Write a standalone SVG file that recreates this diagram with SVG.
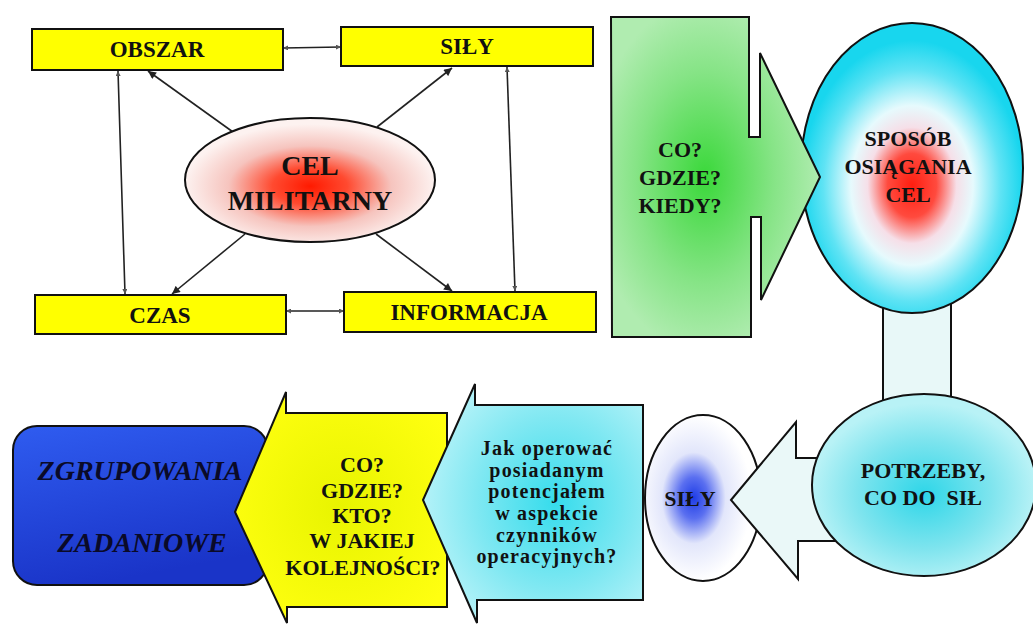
<svg xmlns="http://www.w3.org/2000/svg" width="1033" height="626" viewBox="0 0 1033 626">
<style>
text{font-family:"Liberation Serif","Times New Roman",serif;font-weight:bold;fill:#111;text-anchor:middle}
.box{fill:#ffff00;stroke:#111;stroke-width:2}
.ln{stroke:#222;stroke-width:1.6;fill:none}
.sh{stroke:#111;stroke-width:2}
.t22{font-size:22px}
.t23{font-size:23px}
.tj{font-size:20px;letter-spacing:1.2px}
</style>
<defs>
<marker id="ah" viewBox="0 0 10 10" refX="10" refY="5" markerWidth="9" markerHeight="8" markerUnits="userSpaceOnUse" orient="auto"><path d="M0,0 L10,5 L0,10 z" fill="#222"/></marker>
<marker id="sm" viewBox="0 0 10 10" refX="10" refY="5" markerWidth="5" markerHeight="5" markerUnits="userSpaceOnUse" orient="auto-start-reverse"><path d="M0,0 L10,5 L0,10 z" fill="#555"/></marker>
<radialGradient id="gCel" cx="0.5" cy="0.55" r="0.5">
<stop offset="0" stop-color="#ff1a00"/><stop offset="0.3" stop-color="#ff4a30"/><stop offset="0.65" stop-color="#f6c4be"/><stop offset="1" stop-color="#fdf2f0"/>
</radialGradient>
<radialGradient id="gGreen" cx="0.45" cy="0.5" r="0.55">
<stop offset="0" stop-color="#3ad83a"/><stop offset="0.6" stop-color="#86e486"/><stop offset="1" stop-color="#b0ecb0"/>
</radialGradient>
<radialGradient id="gSpos" cx="0.5" cy="0.56" r="0.5">
<stop offset="0" stop-color="#ff1e10"/><stop offset="0.22" stop-color="#ff4a3e"/><stop offset="0.4" stop-color="#f6dfe8"/><stop offset="0.55" stop-color="#e6fafd"/><stop offset="0.8" stop-color="#5fe3f4"/><stop offset="1" stop-color="#18d6ee"/>
</radialGradient>
<radialGradient id="gPotr" cx="0.5" cy="0.55" r="0.5">
<stop offset="0" stop-color="#2ed6e8"/><stop offset="0.6" stop-color="#7ee4ee"/><stop offset="1" stop-color="#b8f2f6"/>
</radialGradient>
<radialGradient id="gSily" cx="0.42" cy="0.5" r="0.5">
<stop offset="0" stop-color="#1f3de6"/><stop offset="0.25" stop-color="#5a6ff0"/><stop offset="0.55" stop-color="#e2e6fb"/><stop offset="1" stop-color="#ffffff"/>
</radialGradient>
<radialGradient id="gJak" cx="0.6" cy="0.5" r="0.6">
<stop offset="0" stop-color="#36dcec"/><stop offset="0.6" stop-color="#80e8f2"/><stop offset="1" stop-color="#b4f2f8"/>
</radialGradient>
<radialGradient id="gYel" cx="0.5" cy="0.5" r="0.6">
<stop offset="0" stop-color="#e8f400"/><stop offset="1" stop-color="#ffff10"/>
</radialGradient>
<linearGradient id="gBlue" x1="0" y1="0" x2="0.3" y2="1">
<stop offset="0" stop-color="#2f5cf0"/><stop offset="1" stop-color="#1a34c8"/>
</linearGradient>
</defs>

<g id="connectors">
<path class="ln" d="M283,48 L341,47" marker-start="url(#sm)" marker-end="url(#sm)"/>
<path class="ln" d="M286,311 L344,311" marker-start="url(#sm)" marker-end="url(#sm)"/>
<path class="ln" d="M118,71 L125,294" marker-start="url(#sm)" marker-end="url(#sm)"/>
<path class="ln" d="M507,67 L515,291" marker-start="url(#sm)" marker-end="url(#sm)"/>
<path class="ln" d="M233,132 L148,71" marker-end="url(#ah)"/>
<path class="ln" d="M377,127 L452,68" marker-end="url(#ah)"/>
<path class="ln" d="M245,234 L172,294" marker-end="url(#ah)"/>
<path class="ln" d="M376,234 L452,291" marker-end="url(#ah)"/>
</g>

<g id="obszar"><rect class="box" x="32" y="29" width="251" height="41"/><text class="t23" x="157" y="57">OBSZAR</text></g>
<g id="sily-top"><rect class="box" x="341" y="27" width="252" height="39"/><text class="t23" x="467" y="54">SIŁY</text></g>
<g id="czas"><rect class="box" x="35" y="295" width="251" height="39"/><text class="t23" x="160" y="323">CZAS</text></g>
<g id="informacja"><rect class="box" x="344" y="292" width="252" height="40"/><text class="t23" x="469" y="320">INFORMACJA</text></g>
<g id="cel-militarny"><ellipse cx="310" cy="180" rx="125" ry="62" fill="url(#gCel)" stroke="#111" stroke-width="2"/><text x="310" y="175" style="font-size:28px">CEL</text><text x="310" y="210" style="font-size:28px">MILITARNY</text></g>

<g id="link-rect"><rect x="883" y="290" width="68" height="115" fill="#e8f8f8" class="sh"/></g>
<g id="sposob"><ellipse cx="912" cy="168" rx="111" ry="145" fill="url(#gSpos)" class="sh"/><text class="t22" x="908" y="146">SPOSÓB</text><text class="t22" x="908" y="174">OSIĄGANIA</text><text class="t22" x="908" y="202">CEL</text></g>
<g id="co-gdzie-kiedy"><path d="M611,17 H749 V137 H760 V53 L820,177 L761,300 V217 H751 V337 H612 Z" fill="url(#gGreen)" class="sh"/><text class="t22" x="680" y="157">CO?</text><text class="t22" x="680" y="185">GDZIE?</text><text class="t22" x="680" y="213">KIEDY?</text></g>

<g id="sily-circle"><ellipse cx="703" cy="498" rx="58" ry="83" fill="url(#gSily)" class="sh"/><text class="t22" x="690" y="506">SIŁY</text></g>
<g id="arrow-potrzeby"><path d="M731,500 L796,422 V458 H845 V541 H798 V579 Z" fill="#eaf8f8" class="sh"/></g>
<g id="potrzeby"><ellipse cx="924" cy="485" rx="112" ry="91" fill="url(#gPotr)" class="sh"/><text class="t22" x="923" y="478">POTRZEBY,</text><text class="t22" x="923" y="505" xml:space="preserve">CO DO  SIŁ</text></g>

<g id="zgrupowania"><rect x="13" y="426" width="255" height="159" rx="24" fill="url(#gBlue)" class="sh"/><text x="140" y="480" style="font-size:28px;font-style:italic;fill:#0a0a28">ZGRUPOWANIA</text><text x="142" y="552" style="font-size:28px;font-style:italic;fill:#0a0a28">ZADANIOWE</text></g>
<g id="co-gdzie-kto"><path d="M235,512 L286,392 V413 H447 V607 H287 V623 Z" fill="url(#gYel)" class="sh"/><text class="t22" x="362" y="472">CO?</text><text class="t22" x="362" y="498">GDZIE?</text><text class="t22" x="362" y="523">KTO?</text><text class="t22" x="362" y="548">W JAKIEJ</text><text class="t22" x="363" y="575">KOLEJNOŚCI?</text></g>
<g id="jak-operowac"><path d="M423,500 L475,384 V405 H643 V600 H477 V623 Z" fill="url(#gJak)" class="sh"/><text class="tj" x="547" y="455">Jak operować</text><text class="tj" x="547" y="477">posiadanym</text><text class="tj" x="547" y="498">potencjałem</text><text class="tj" x="547" y="520">w aspekcie</text><text class="tj" x="547" y="542">czynników</text><text class="tj" x="547" y="563">operacyjnych?</text></g>
</svg>
